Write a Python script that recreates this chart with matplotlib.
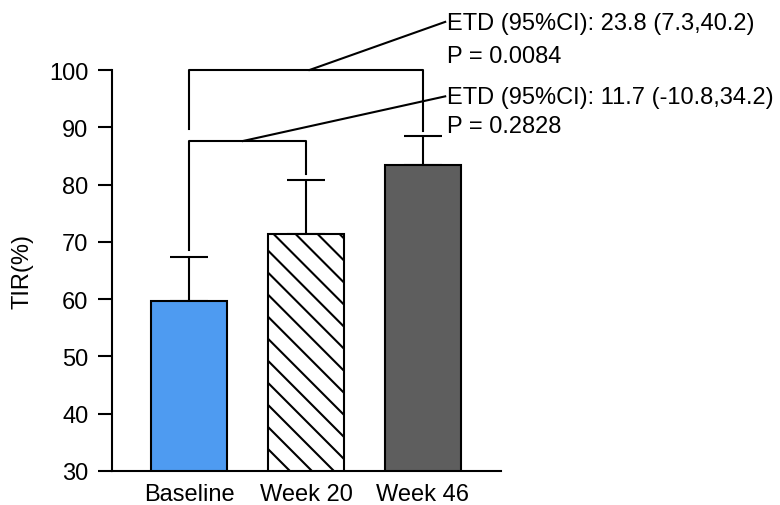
import numpy as np
import matplotlib
matplotlib.use('Agg')
import matplotlib.pyplot as plt

plt.rcParams['font.family'] = ['Liberation Sans', 'DejaVu Sans']

# TIR by visit: mean and upper SD
groups = ['Baseline', 'Week 20', 'Week 46']
tir_mean = [59.6, 71.3, 83.4]
tir_sd = [7.7, 9.5, 5.0]
yticks = [30, 40, 50, 60, 70, 80, 90, 100]

# pairwise comparisons vs baseline
etd_labels = ['ETD (95%CI): 23.8 (7.3,40.2)', 'ETD (95%CI): 11.7 (-10.8,34.2)']
p_labels = ['P = 0.0084', 'P = 0.2828']

FS = 17
YMIN, YMAX = 30, 100
fig = plt.figure(figsize=(7.8, 5.06), dpi=100)
ax = fig.add_axes([112 / 780, 34 / 506, 389 / 780, 401 / 506])

x = np.arange(len(groups))
heights = [m - YMIN for m in tir_mean]
bars = ax.bar(x, heights, bottom=YMIN, width=0.65,
              color=['#4e9bf1', 'white', '#5e5e5e'],
              edgecolor='black', linewidth=1.5, zorder=3)
ax.errorbar(x, tir_mean, yerr=[np.zeros(len(x)), tir_sd], fmt='none',
            ecolor='black', elinewidth=1.5, capsize=13.7, capthick=1.5, zorder=2)

ax.set_xlim(-0.658, 2.667)
ax.set_ylim(YMIN, YMAX)

# hand drawn hatch for week 20 (wider spacing than the built-in one)
hb = bars[1]
x0, x1 = hb.get_x(), hb.get_x() + hb.get_width()
slope = 117 / 5.714  # data-y per data-x for a 45 degree line
step = 22 / 5.714
for c in np.arange(YMIN, YMAX + slope * 0.7, step):
    ln, = ax.plot([x0, x1], [c, c - slope * (x1 - x0)], color='black',
                  lw=1.5, zorder=3.5, solid_capstyle='butt')
    ln.set_clip_path(hb)

# comparison brackets
kw = dict(color='black', lw=1.5, clip_on=False, zorder=4)
ax.plot([0, 0, 2, 2], [89.7, 100, 100, 89.4], **kw)
ax.plot([0, 0, 1, 1], [68.6, 87.6, 87.6, 81.9], **kw)
ax.plot([1.03, 2.19], [100, 108.4], **kw)
ax.plot([0.46, 2.19], [87.6, 95.4], **kw)

tx = 2.205
ax.text(tx, 108.2, etd_labels[0], fontsize=FS, va='center', ha='left')
ax.text(tx, 102.4, p_labels[0], fontsize=FS, va='center', ha='left')
ax.text(tx, 95.3, etd_labels[1], fontsize=FS, va='center', ha='left')
ax.text(tx, 90.2, p_labels[1], fontsize=FS, va='center', ha='left')

ax.set_xticks(x, groups)
ax.set_yticks(yticks)
ax.tick_params(axis='x', length=0, pad=9, labelsize=FS)
ax.tick_params(axis='y', length=10, width=1.5, pad=7, labelsize=FS)
for s in ['top', 'right']:
    ax.spines[s].set_visible(False)
for s in ['left', 'bottom']:
    ax.spines[s].set_linewidth(1.5)

ax.set_ylabel('TIR(%)', fontsize=FS, va='center')
ax.yaxis.set_label_coords(-0.229, 0.5)

fig.savefig('out.png', dpi=100)
